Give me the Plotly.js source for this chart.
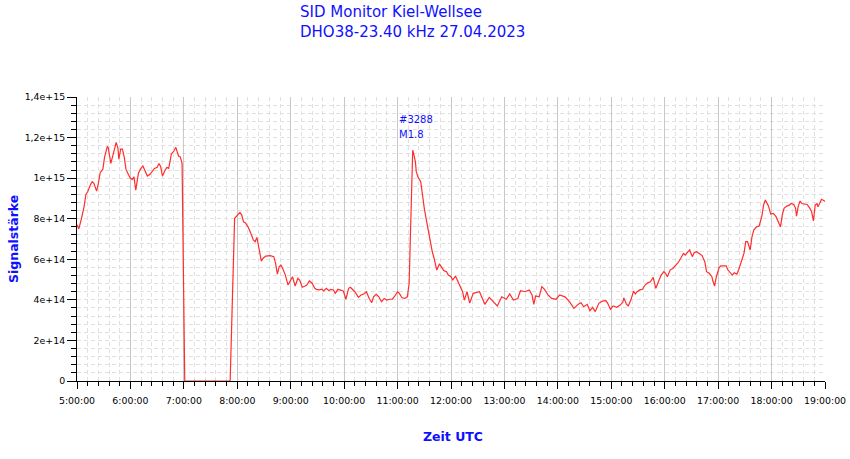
<!DOCTYPE html>
<html><head><meta charset="utf-8">
<script src="https://cdn.plot.ly/plotly-3.0.1.min.js"></script>
<style>html,body{margin:0;padding:0;background:#fff}#chart{width:850px;height:459px}</style>
</head><body><div id="chart"></div>
<script>
// time in minutes after 00:00 UTC
const timeMinutes = [
300,302,305,308,310,312,315,317,319,322,324,326,329,331,334,335,338,341,344,346,347,349,351,353,355,358,360,362,364,366,369,371,374,376,379,382,385,387,390,392,394,396,399,401,403,406,409,411,414,416,418,
421,430,440,450,460,472,
477,480,483,485,487,489,492,495,498,500,502,504,507,509,512,517,521,523,525,527,529,531,534,537,540,542,545,548,550,553,556,558,561,564,567,569,572,575,577,580,583,585,588,590,593,596,599,602,605,607,
609,612,616,619,622,625,628,631,633,636,639,642,645,648,651,654,657,660,662,665,668,671,673,675,677,678,680,681,683,686,688,690,692,694,696,697,699,701,703,704,707,709,711,712,715,717,720,722,725,728,731,733,735,738,741,745,752,758,763,767,772,777,782,786,790,795,798,803,808,811,813,815,819,822,825,829,833,838,
842,848,853,858,863,866,869,873,876,879,882,886,890,894,896,899,902,906,910,913,914,917,919,922,925,927,929,932,935,938,941,944,947,950,953,956,959,961,963,966,969,972,975,978,981,983,986,988,991,993,996,999,1002,1005,1007,1010,1013,1014,1016,1018,1021,1023,1026,1029,1031,1033,1036,1038,1041,1043,1046,1049,1051,1053,1056,1058,1060,1063,1066,1069,1071,1073,1076,1077,1079,1082,1085,1087,1090,1092,1094,1097,1100,1102,1105,1107,1108,1110,1112,1114,1117,1120,1123,1125,1127,1129,1131,1132,1134,1136,1139,1140
];
// signal strength in units of 1e14
const signalE14 = [
7.7,7.5,8.0,8.6,9.2,9.33,9.66,9.82,9.74,9.36,9.74,10.27,10.43,11.05,11.55,11.52,10.73,11.22,11.76,11.47,10.93,11.43,11.43,11.05,10.43,10.15,9.99,9.94,10.07,9.41,10.24,10.43,10.6,10.4,10.1,10.19,10.4,10.48,10.53,10.72,10.56,10.1,10.4,10.53,10.48,11.19,11.35,11.52,11.09,11.05,10.72,
0,0,0,0,0,0,
8.02,8.18,8.31,8.18,7.85,7.8,7.6,7.31,6.95,6.87,7.08,6.62,5.91,6.05,6.16,6.18,6.13,5.8,5.27,5.63,5.72,5.55,5.22,4.73,4.98,5.14,4.68,5.06,4.98,4.62,4.68,4.73,4.93,4.82,4.57,4.52,4.49,4.53,4.44,4.57,4.45,4.52,4.49,4.32,4.52,4.49,4.44,4.03,4.57,4.62,
4.52,4.4,4.12,4.24,4.29,4.4,4.08,3.86,4.15,4.27,4.15,3.91,4.07,3.99,4.03,4.03,4.19,4.4,4.32,4.1,4.07,4.15,4.82,8.59,11.38,11.22,10.81,10.32,10.04,9.82,9.08,8.51,8.02,7.53,7.11,6.95,6.37,6.05,5.72,5.47,5.77,5.63,5.55,5.44,5.39,5.22,5.14,4.98,5.17,4.89,4.65,4.4,3.99,4.4,3.84,4.32,4.4,3.78,4.12,3.91,3.7,4.15,4.03,4.29,3.99,4.07,4.45,4.4,4.49,4.24,3.78,4.19,4.15,4.65,4.52,4.24,4.07,4.03,
4.24,4.15,3.91,3.58,3.79,3.86,3.66,3.78,3.46,3.63,3.42,3.83,3.94,3.96,3.83,3.53,3.7,3.63,3.74,3.88,4.1,3.79,3.7,3.99,4.44,4.29,4.4,4.49,4.52,4.73,4.84,4.89,5.11,4.57,4.89,5.22,5.39,5.31,5.14,5.47,5.55,5.68,5.83,6.05,6.29,6.21,6.37,6.46,6.13,6.32,6.37,6.29,6.18,5.88,5.39,5.31,5.14,4.94,4.68,5.14,5.58,5.68,5.67,5.68,5.47,5.36,5.22,5.34,5.27,5.47,5.83,6.29,6.87,6.87,6.46,7.11,7.44,7.6,7.64,8.1,8.67,8.92,8.67,8.56,8.23,8.26,8.1,7.93,7.6,8.18,8.51,8.62,8.67,8.75,8.7,8.51,8.13,8.62,8.87,8.75,8.72,8.7,8.51,8.34,7.89,8.67,8.75,8.59,8.75,8.96,8.89,8.85
];
const xTickValues = [300,360,420,480,540,600,660,720,780,840,900,960,1020,1080,1140];
const xTickLabels = ['5:00:00','6:00:00','7:00:00','8:00:00','9:00:00','10:00:00','11:00:00','12:00:00','13:00:00','14:00:00','15:00:00','16:00:00','17:00:00','18:00:00','19:00:00'];
const yTickValues = [0,2,4,6,8,10,12,14];
const yTickLabels = ['0','2e+14','4e+14','6e+14','8e+14','1e+15','1,2e+15','1,4e+15'];
const titleLines = ['SID Monitor Kiel-Wellsee','DHO38-23.40 kHz 27.04.2023'];
const xTitle = 'Zeit UTC';
const yTitle = 'Signalstärke';
const flareLabels = ['#3288','M1.8'];
const flareTime = 660;

const blue = '#1010ff';
const gridDash = '#e0e0e0';
const tickFont = {family:'DejaVu Sans', size:9.4, color:'#000'};

const trace = {
  x: timeMinutes, y: signalE14, type:'scatter', mode:'lines',
  line:{color:'rgb(255,45,45)', width:1.2}, hoverinfo:'skip', showlegend:false
};

const layout = {
  width:850, height:459,
  paper_bgcolor:'#fff', plot_bgcolor:'#fff',
  margin:{l:77, r:25, t:97, b:78},
  title:{text:titleLines.join('<br>'), x:300/850, xref:'container', xanchor:'left',
         y:1-17/459, yref:'container', yanchor:'top',
         font:{family:'DejaVu Sans', size:15, color:blue}},
  xaxis:{range:[300,1140], tickmode:'array', tickvals:xTickValues, ticktext:xTickLabels,
         ticks:'outside', ticklen:7, tickcolor:'#000', tickwidth:1, ticklabelstandoff:4,
         showline:true, linecolor:'#000', linewidth:1, zeroline:false,
         showgrid:true, gridcolor:'#c8c8c8', gridwidth:1,
         tickfont:tickFont, fixedrange:true,
         minor:{tickmode:'linear', tick0:300, dtick:12, ticks:'outside', ticklen:4, tickcolor:'#000',
                showgrid:true, gridcolor:gridDash, griddash:'4px,3px', gridwidth:1}},
  yaxis:{range:[0,14], tickmode:'array', tickvals:yTickValues, ticktext:yTickLabels,
         ticks:'outside', ticklen:9, tickcolor:'#000', tickwidth:1,
         showline:true, linecolor:'#000', linewidth:1, zeroline:false,
         showgrid:true, gridcolor:gridDash, griddash:'4px,3px', gridwidth:1,
         tickfont:tickFont, fixedrange:true,
         minor:{tickmode:'linear', tick0:0, dtick:0.4, ticks:'outside', ticklen:5, tickcolor:'#000',
                showgrid:true, gridcolor:gridDash, griddash:'4px,3px', gridwidth:1}},
  annotations:[
    {text:xTitle, xref:'paper', yref:'paper', x:(453-77)/748, y:(381-436)/284,
     xanchor:'center', yanchor:'middle', showarrow:false,
     font:{family:'DejaVu Sans', size:12.5, color:blue, weight:'bold'}},
    {text:yTitle, xref:'paper', yref:'paper', x:(13-77)/748, y:0.5, textangle:-90,
     xanchor:'center', yanchor:'middle', showarrow:false,
     font:{family:'DejaVu Sans', size:12.5, color:blue, weight:'bold'}},
    {text:flareLabels[0], xref:'x', yref:'paper', x:flareTime, y:(381-113)/284,
     xanchor:'left', yanchor:'top', showarrow:false, borderpad:0,
     font:{family:'DejaVu Sans', size:10, color:blue}},
    {text:flareLabels[1], xref:'x', yref:'paper', x:flareTime, y:(381-128)/284,
     xanchor:'left', yanchor:'top', showarrow:false, borderpad:0,
     font:{family:'DejaVu Sans', size:10, color:blue}}
  ]
};

Plotly.newPlot('chart', [trace], layout, {staticPlot:true, displayModeBar:false});
</script>
</body></html>
